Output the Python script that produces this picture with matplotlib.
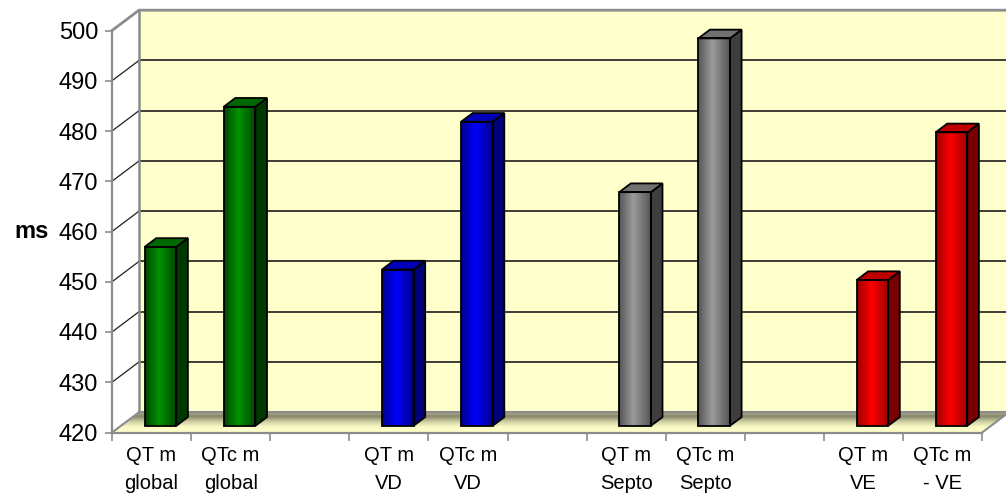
import numpy as np
import matplotlib
matplotlib.use("Agg")
import matplotlib.pyplot as plt
from matplotlib.patches import Polygon
from matplotlib.colors import LinearSegmentedColormap

# ---------------- data ----------------
labels = ["QT m\nglobal", "QTc m\nglobal", "", "QT m\nVD", "QTc m\nVD", "",
          "QT m\nSepto", "QTc m\nSepto", "", "QT m\nVE", "QTc m\n- VE"]
values = [455.6, 483.5, np.nan, 451.1, 480.5, np.nan, 466.5, 497.1, np.nan, 449.0, 478.4]
groups = ["global", "global", None, "VD", "VD", None, "Septo", "Septo", None, "VE", "VE"]
y_ticks = [420, 430, 440, 450, 460, 470, 480, 490, 500]
y_label = "ms"

# ---------------- style ----------------
palette = {
    "global": dict(edge="#004600", mid="#009400", side="#003A00", top="#006800"),
    "VD":     dict(edge="#00008A", mid="#0000FF", side="#000078", top="#0000B8"),
    "Septo":  dict(edge="#555555", mid="#9C9C9C", side="#3E3E3E", top="#707070"),
    "VE":     dict(edge="#9A0000", mid="#FF0000", side="#780000", top="#C00000"),
}
wall_color = "#FFFFCC"
edge_gray = "#8C8C8C"

plt.rcParams['font.family'] = ['Liberation Sans', 'DejaVu Sans']

W, H = 1006, 503
fig = plt.figure(figsize=(W / 100, H / 100), dpi=100)
fig.patch.set_facecolor('white')
px_left, px_bottom = 112, 432.5
px_per_cat, px_per_unit = 79.1, 5.025
ax = fig.add_axes([px_left / W, (H - px_bottom) / H, (W - px_left) / W, px_bottom / H])
ax.set_facecolor('none')

n = len(labels)
ymin = y_ticks[0]
ytop = y_ticks[-1]
xlim = (-0.5, -0.5 + (W - px_left) / px_per_cat)
ylim = (ymin, ymin + px_bottom / px_per_unit)
DX = 27 / px_per_cat      # depth offset in category units
DY = 20.3 / px_per_unit   # depth offset in value units
xl, xr = -0.5, n - 0.5
xfar = xlim[1] + 1

# back wall
ax.add_patch(Polygon([(xl + DX, ymin + DY), (xfar, ymin + DY), (xfar, ytop + DY), (xl + DX, ytop + DY)],
                     closed=True, fc=wall_color, ec='none', zorder=0))
for v in y_ticks[1:-1]:
    ax.plot([xl + DX, xfar], [v + DY, v + DY], color='#1E1E1E', lw=1.2, zorder=1)
    ax.plot([xl, xl + DX], [v, v + DY], color='#1E1E1E', lw=0.9, zorder=1, clip_on=False)
ax.plot([xl, xl + DX, xfar], [ytop, ytop + DY, ytop + DY], color=edge_gray, lw=2, zorder=1, clip_on=False)
ax.plot([xl + DX, xl + DX], [ymin + DY, ytop + DY], color=edge_gray, lw=1.8, zorder=1)

# floor with gradient
floor = Polygon([(xl, ymin), (xr, ymin), (xr + DX, ymin + DY), (xl + DX, ymin + DY)],
                closed=True, fc='none', ec='none', zorder=2)
ax.add_patch(floor)
floor_cmap = LinearSegmentedColormap.from_list("floor", [
    (0.0, "#FFFFCC"), (0.25, "#FAFAC6"), (0.5, "#CDCDA0"), (0.75, "#86866A"),
    (0.9, "#A2A286"), (1.0, "#C4C4AC")])
grad = np.linspace(0, 1, 200).reshape(-1, 1)
im = ax.imshow(grad, extent=[xl, xr + DX, ymin, ymin + DY], origin='lower',
               aspect='auto', cmap=floor_cmap, interpolation='bilinear', zorder=2)
im.set_clip_path(floor)
ax.plot([xl, xl + DX], [ymin, ymin + DY], color=edge_gray, lw=1.5, zorder=3, clip_on=False)
ax.plot([xl + DX, xr + DX], [ymin + DY, ymin + DY], color=edge_gray, lw=1.5, zorder=3)
ax.plot([xr, xr + DX], [ymin, ymin + DY], color=edge_gray, lw=1.5, zorder=3)

# bars
f0, bd, bw = 0.33, 0.43, 0.40
x = np.arange(n)
vals = np.array(values, dtype=float)
heights = np.where(np.isnan(vals), 0, vals - ymin)
bars = ax.bar(x + f0 * DX, heights, bottom=ymin + f0 * DY, width=bw,
              color='none', edgecolor='black', linewidth=1.3, zorder=6)
for i, rect in enumerate(bars):
    if np.isnan(vals[i]):
        rect.set_visible(False)
        continue
    c = palette[groups[i]]
    x0, yb = rect.get_x(), rect.get_y()
    x1, yt = x0 + rect.get_width(), yb + rect.get_height()
    cm = LinearSegmentedColormap.from_list("b%d" % i, [(0, c["edge"]), (0.45, c["mid"]), (1, c["edge"])])
    g = ax.imshow(np.linspace(0, 1, 100).reshape(1, -1), extent=[x0, x1, yb, yt], aspect='auto',
                  cmap=cm, interpolation='bilinear', zorder=5)
    g.set_clip_path(rect)
    ax.add_patch(Polygon([(x1, yb), (x1 + bd * DX, yb + bd * DY), (x1 + bd * DX, yt + bd * DY), (x1, yt)],
                         closed=True, fc=c["side"], ec='black', lw=1.3, zorder=5))
    ax.add_patch(Polygon([(x0, yt), (x1, yt), (x1 + bd * DX, yt + bd * DY), (x0 + bd * DX, yt + bd * DY)],
                         closed=True, fc=c["top"], ec='black', lw=1.3, zorder=5))

ax.set_xlim(*xlim)
ax.set_ylim(*ylim)

# axes / ticks
for s in ['top', 'right']:
    ax.spines[s].set_visible(False)
ax.spines['left'].set_bounds(ymin, ytop)
ax.spines['bottom'].set_bounds(xl, xr)
for s in ['left', 'bottom']:
    ax.spines[s].set_color(edge_gray)
    ax.spines[s].set_linewidth(1.6)
    ax.spines[s].set_zorder(7)

ax.set_xticks(np.arange(-0.5, n, 1.0))
ax.set_xticklabels([])
ax.tick_params(axis='x', which='major', length=6, width=1.2, color=edge_gray)
xtrans = ax.get_xaxis_transform()
for xi, lab in zip(x, labels):
    if lab:
        ax.text(xi, (px_bottom - 446) / px_bottom, lab, transform=xtrans, ha='center', va='top',
                fontsize=14.5, linespacing=1.62, clip_on=False)

ax.set_yticks(y_ticks)
ax.tick_params(axis='y', length=5, width=1.2, color=edge_gray, labelsize=17, pad=5)

ax.set_ylabel(y_label, rotation=0, fontsize=17, fontweight='bold', ha='center', va='center')
ax.yaxis.set_label_coords((32 - px_left) / (W - px_left), (px_bottom - 231) / px_bottom)

fig.savefig("out.png", dpi=100)
